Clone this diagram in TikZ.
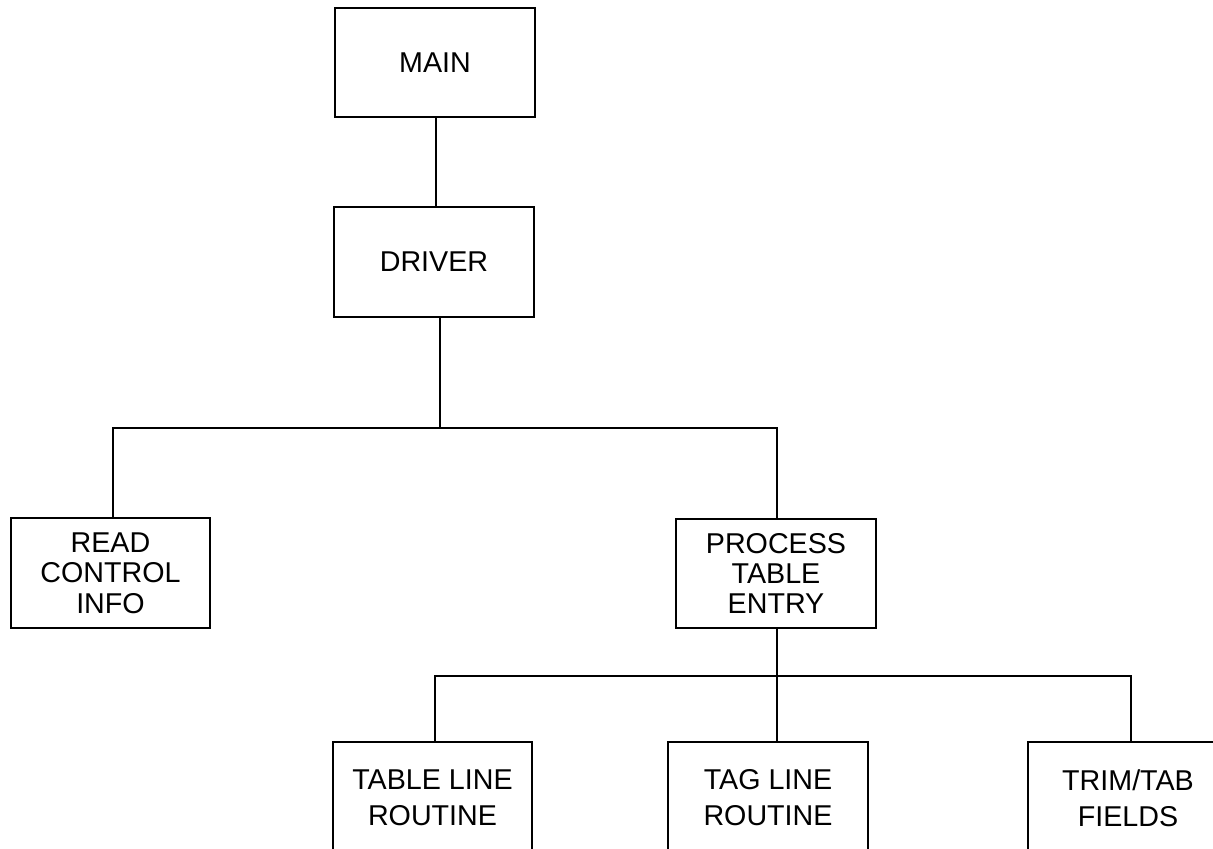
\documentclass[tikz,border=0pt]{standalone}
\usepackage{fontspec}
\setmainfont{Liberation Sans}
\begin{document}
\begin{tikzpicture}[x=0.75pt,y=-0.75pt,
  box/.style={draw,line width=0.8pt,inner sep=0pt,outer sep=0pt,align=center,
    font=\fontsize{21.5}{22.5}\selectfont},
  link/.style={line width=0.8pt}]
  \useasboundingbox (0,0) rectangle (1213,849);
  \clip (0,0) rectangle (1213,849);

  % top of the call tree
  \node[box,minimum width=150pt,minimum height=81.75pt] (main) at (435,62.5) {\raisebox{-2pt}{MAIN}};
  \node[box,minimum width=150pt,minimum height=82.5pt] (driver) at (434,262) {DRIVER};

  % second level
  \node[box,minimum width=149.25pt,minimum height=82.5pt,
    font=\fontsize{21.5}{23}\selectfont] (read) at (110.5,573) {READ\\CONTROL\\INFO};
  \node[box,minimum width=150pt,minimum height=81.75pt] (process) at (776,573.5) {PROCESS\\TABLE\\ENTRY};

  % third level (boxes run past the lower edge)
  \node[box,minimum width=149.25pt,minimum height=84pt,
    font=\fontsize{21.5}{27}\selectfont] (tableline) at (432.5,798) {TABLE LINE\\ROUTINE};
  \node[box,minimum width=150pt,minimum height=84pt,
    font=\fontsize{21.5}{27}\selectfont] (tagline) at (768,798) {TAG LINE\\ROUTINE};
  \node[box,minimum width=150pt,minimum height=84pt,
    font=\fontsize{21.5}{27}\selectfont] (trim) at (1128,798) {TRIM/TAB\\FIELDS};

  % x positions of the vertical drops
  \coordinate (xmain) at (436,0);
  \coordinate (xread) at (113,0);
  \coordinate (xproc) at (777,0);
  \coordinate (xtable) at (435,0);
  \coordinate (xtrim) at (1131,0);

  % junction points of the two buses
  \coordinate (j1) at (440,428);
  \coordinate (j2) at (777,676);

  % connectors
  \draw[link] (main.south -| xmain) -- (driver.north -| xmain);
  \draw[link] (driver.south -| j1) -- (j1);
  \draw[link] (read.north -| xread) -- (j1 -| xread) -- (j1 -| xproc) -- (process.north -| xproc);
  \draw[link] (process.south -| xproc) -- (tagline.north -| xproc);
  \draw[link] (tableline.north -| xtable) -- (j2 -| xtable) -- (j2 -| xtrim) -- (trim.north -| xtrim);
\end{tikzpicture}
\end{document}
